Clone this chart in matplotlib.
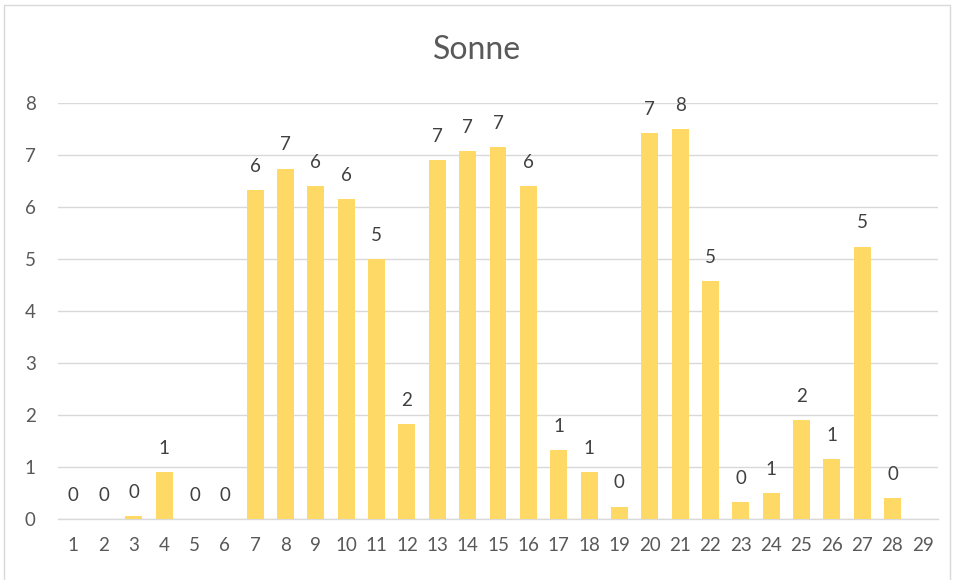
import matplotlib.pyplot as plt
import numpy as np
from matplotlib.patches import Rectangle

# Data
days = [str(d) for d in range(1, 30)]
sun_hours = [0, 0, 0.06, 0.91, 0, 0, 6.32, 6.74, 6.41, 6.16, 5.0, 1.82,
             6.91, 7.07, 7.16, 6.41, 1.32, 0.91, 0.24, 7.42, 7.5, 4.57,
             0.32, 0.5, 1.91, 1.16, 5.24, 0.40, np.nan]
y_ticks = [0, 1, 2, 3, 4, 5, 6, 7, 8]

plt.rcParams['font.family'] = ['Lato', 'DejaVu Sans']

fig = plt.figure(figsize=(9.55, 5.8), dpi=100)
ax = fig.add_axes([58 / 955, 61 / 580, 880 / 955, 416 / 580])

x = np.arange(1, len(days) + 1)
bars = ax.bar(x, sun_hours, width=0.56, color='#FFD966', zorder=3)

# data labels, rounded half up like Excel
for xi, v in zip(x, sun_hours):
    if np.isnan(v):
        continue
    ax.annotate('{}'.format(int(np.floor(v + 0.5))), xy=(xi, v),
                xytext=(0, 13), textcoords='offset points',
                ha='center', va='baseline', fontsize=13.5, color='#404040')

ax.set_xlim(0.5, len(days) + 0.5)
ax.set_ylim(0, 8)
ax.set_xticks(x)
ax.set_xticklabels(days)
ax.set_yticks(y_ticks)
ax.grid(axis='y', color='#D9D9D9', linewidth=1.0, zorder=0)
ax.tick_params(axis='both', length=0, labelsize=13.5, labelcolor='#595959')
ax.tick_params(axis='x', pad=13)
ax.tick_params(axis='y', pad=16)
for s in ['top', 'right', 'left']:
    ax.spines[s].set_visible(False)
ax.spines['bottom'].set_color('#D9D9D9')
ax.spines['bottom'].set_linewidth(1.0)

fig.text(0.5, 1 - 50 / 580, 'Sonne', ha='center', va='center',
         fontsize=23, color='#595959')

# chart border
fig.patches.append(Rectangle((4 / 955, -0.05), 946 / 955, 1.05 - 5 / 580,
                             transform=fig.transFigure, fill=False,
                             edgecolor='#D9D9D9', linewidth=1.0))

fig.savefig('out.png', dpi=100)
